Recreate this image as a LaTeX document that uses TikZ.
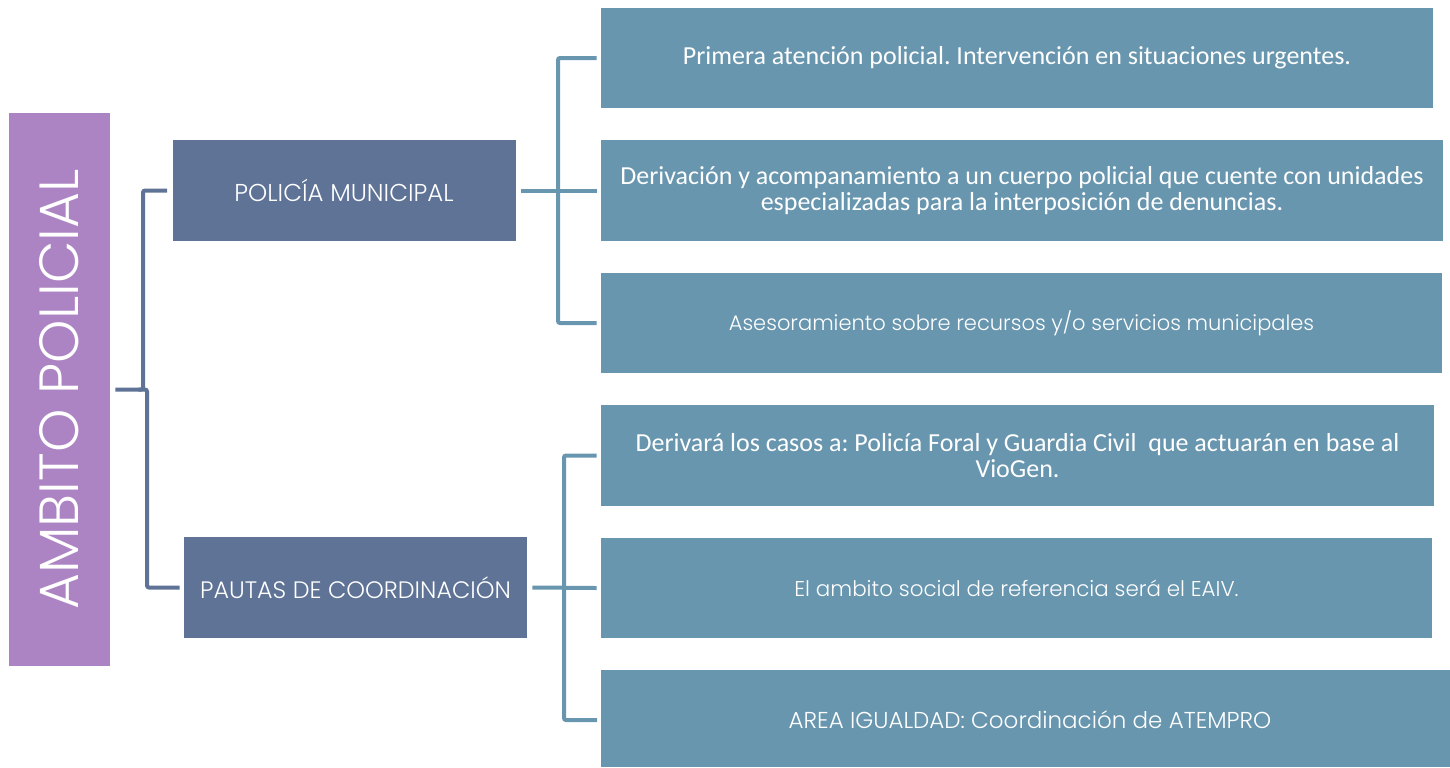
\documentclass[tikz,border=0pt]{standalone}
\usepackage{fontspec}
\setmainfont{Carlito}
\newfontfamily\mont{Poppins Light}
\usetikzlibrary{calc}
\definecolor{purp}{HTML}{AC84C3}
\definecolor{dblue}{HTML}{5F7397}
\definecolor{teal}{HTML}{6896AF}
\tikzset{
  px/.style={x=0.5pt,y=-0.5pt},
  basebox/.style={rectangle, inner sep=0pt, text=white, align=center},
  rootbox/.style={basebox, fill=purp, minimum width=50.5pt, minimum height=276.5pt},
  midbox/.style={basebox, fill=dblue, minimum width=171.5pt, minimum height=50.5pt},
  leafbox/.style={basebox, fill=teal, minimum height=50pt},
  lconn/.style={draw=dblue, line width=2pt, rounded corners=1pt},
  rconn/.style={draw=teal, line width=2pt, rounded corners=1pt},
  cal/.style={font=\frenchspacing\fontsize{13}{13.3}\selectfont},
  mon/.style={font=\mont\fontsize{#1}{13}\selectfont}
}
\begin{document}
\begin{tikzpicture}[px]
\useasboundingbox (0,0) rectangle (1450,767);
% root
\node[rootbox] (amb) at (59.5,389.5) {};
\node[text=white, rotate=90, font=\mont\fontsize{27.6}{30}\selectfont, inner sep=0pt] (ambt) at (amb.center) {AMBITO POLICIAL};
% middle
\node[midbox, mon=12.2] (pol) at (344,190.5) {POLICÍA MUNICIPAL};
\node[midbox, mon=11.9] (pau) at (355.5,587.5) {PAUTAS DE COORDINACIÓN};
% leaves
\node[leafbox, cal, minimum width=416pt] (r1) at (1017,58) {Primera atención policial. Intervención en situaciones urgentes.};
\node[leafbox, cal, minimum width=421pt, minimum height=50.5pt] (r2) at (1022,190.5) {Derivación y acompanamiento a un cuerpo policial que cuente con unidades\\especializadas para la interposición de denuncias.};
\node[leafbox, mon=10.5, minimum width=420.5pt] (r3) at (1021.5,323) {Asesoramiento sobre recursos y/o servicios municipales};
\node[leafbox, cal, minimum width=416.5pt, minimum height=50.5pt] (r4) at (1017.5,455.5) {Derivará los casos a: Policía Foral y Guardia Civil\ \ que actuarán en base al\\VioGen.};
\node[leafbox, mon=10.7, minimum width=415.5pt] (r5) at (1016.5,588) {El ambito social de referencia será el EAIV.};
\node[leafbox, minimum width=424.5pt, minimum height=48.5pt] (r6) at (1025.5,718.5) {};
\node[mon=11.5, text=white, inner sep=0pt] (r6t) at (1030,720) {AREA IGUALDAD: Coordinación de ATEMPRO};
% left connectors
\coordinate (lv1) at (143,0);
\coordinate (lv2) at (147,0);
\draw[lconn] ($(amb.east)+(5,0)$) -| (lv1 |- pol.west) -- ($(pol.west)+(-5,0)$);
\draw[lconn] ($(amb.east)+(28,0)$) -| (lv2 |- pau.west) -- ($(pau.west)+(-4,0)$);
% right connectors (upper)
\coordinate (rv1) at (558,0);
\draw[rconn] ($(pol.east)+(5,0)$) -- ($(r2.west)+(-4,0)$);
\draw[rconn] ($(r1.west)+(-4,0)$) -| (rv1 |- r3.west) -- ($(r3.west)+(-4,0)$);
% right connectors (lower)
\coordinate (rv2) at (564,0);
\coordinate (r6in) at (597,720);
\draw[rconn] ($(pau.east)+(5,0)$) -- ($(r5.west)+(-4,0)$);
\draw[rconn] ($(r4.west)+(-4,0)$) -| (rv2 |- r6in) -- (r6in);
\end{tikzpicture}
\end{document}
